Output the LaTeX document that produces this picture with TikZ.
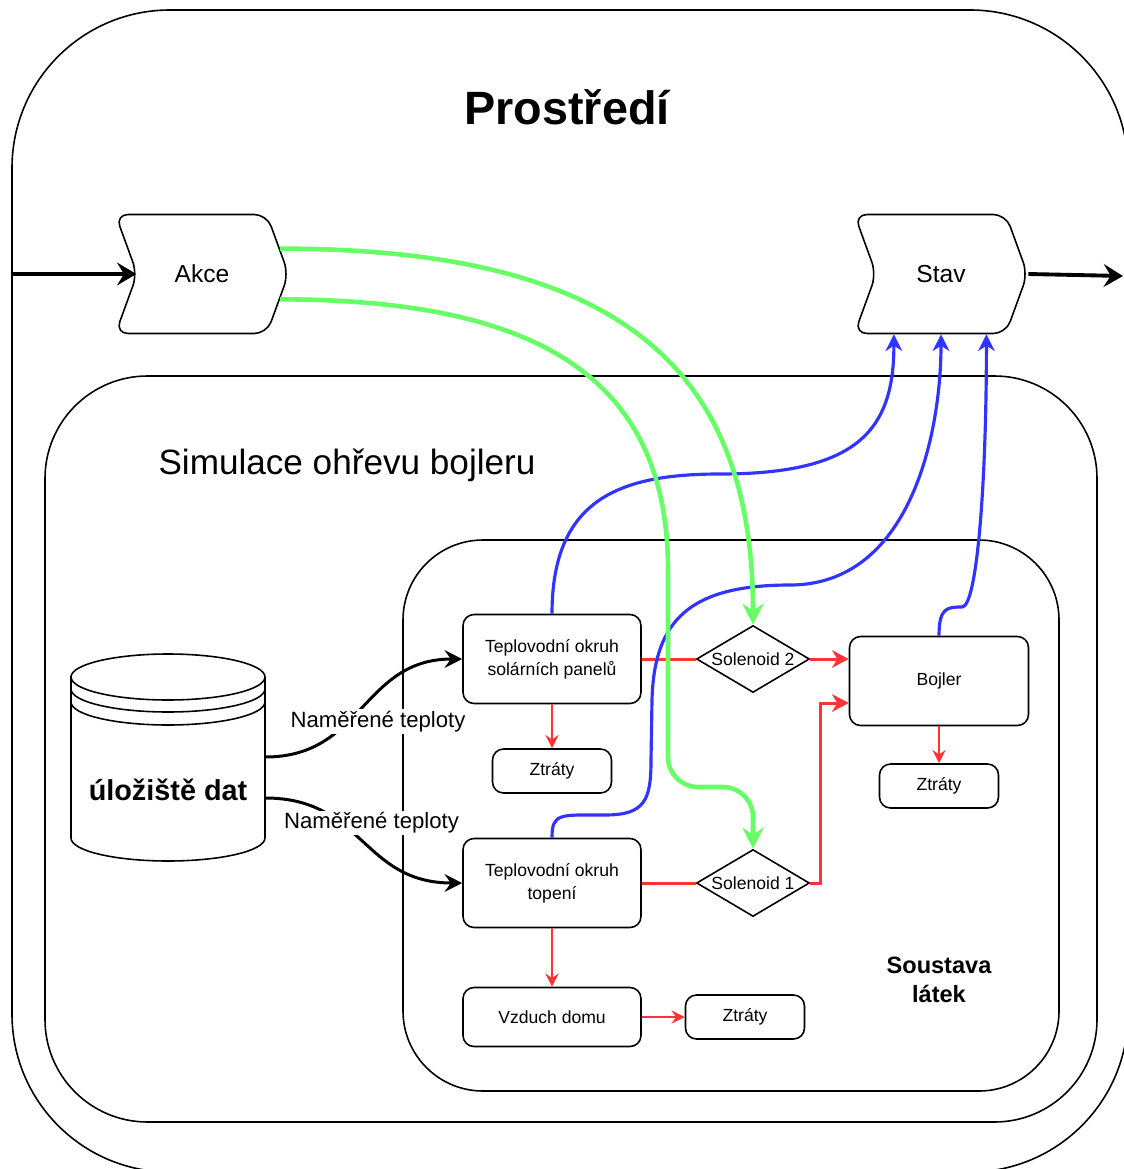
\documentclass[tikz,border=0pt]{standalone}
\usepackage{fontspec}
\setmainfont{Liberation Sans}
\usetikzlibrary{shapes.geometric, shapes.symbols, arrows.meta, calc}
\definecolor{actgreen}{HTML}{66FF66}
\definecolor{stateblue}{HTML}{3333FF}
\definecolor{heatred}{HTML}{FF3333}

\begin{document}
\begin{tikzpicture}[x=0.02cm, y=-0.02cm,
    frame/.style={draw, line width=0.9pt},
    main/.style={draw, rectangle, rounded corners=0.22cm, line width=0.9pt, fill=white, align=center, minimum width=3.56cm, minimum height=1.78cm, font=\fontsize{10}{13}\selectfont},
    loss/.style={main, minimum width=2.38cm, minimum height=0.88cm},
    valve/.style={draw, diamond, shape aspect=1.69, line width=0.9pt, fill=white, inner sep=0pt, minimum width=2.26cm, minimum height=1.34cm, font=\fontsize{10}{12}\selectfont},
    stepbox/.style={draw, signal, signal to=east, signal from=west, signal pointer angle=140, rounded corners=0.25cm, line width=0.9pt, fill=white, minimum width=3.46cm, minimum height=2.38cm, font=\fontsize{14}{16}\selectfont},
    lbl/.style={fill=white, inner sep=1pt, font=\fontsize{12.6}{15}\selectfont},
    io/.style={-{Stealth[length=11pt, width=13pt, inset=4pt]}, line width=2.2pt},
    meas/.style={-{Stealth[length=10pt, width=10pt, inset=3.5pt]}, line width=1.7pt},
    action/.style={-{Stealth[length=12pt, width=12pt, inset=4pt]}, line width=2.6pt, actgreen},
    state/.style={-{Stealth[length=9.5pt, width=9.5pt, inset=3pt]}, line width=1.8pt, stateblue},
    heat/.style={line width=1.7pt, heatred},
    heatarrow/.style={heat, -{Stealth[length=9.5pt, width=10pt, inset=3pt]}},
    lossarrow/.style={-{Stealth[length=7.5pt, width=7.5pt, inset=2.5pt]}, line width=0.8pt, heatred}]
    \useasboundingbox (0,0) rectangle (1123,1169);
    % containers
    \draw[frame, rounded corners=3.16cm] (12,10) rectangle (1128,1172);
    \draw[frame, rounded corners=2.05cm] (45,376) rectangle (1097,1122);
    \draw[frame, rounded corners=1.6cm] (403,540) rectangle (1059,1091);
    % data store
    \draw[frame, fill=white] (71,677) -- (71,838) arc[start angle=180, end angle=360, x radius=1.94cm, y radius=0.46cm] -- (265,677) arc[start angle=0, end angle=180, x radius=1.94cm, y radius=0.46cm] -- cycle;
    \draw[frame] (71,677) arc[start angle=180, end angle=360, x radius=1.94cm, y radius=0.46cm];
    \draw[frame] (71,689) arc[start angle=180, end angle=360, x radius=1.94cm, y radius=0.46cm];
    \draw[frame] (71,702) arc[start angle=180, end angle=360, x radius=1.94cm, y radius=0.46cm];
    % nodes
    \node[font=\bfseries\fontsize{26.6}{30}\selectfont] (env) at (567,107) {Prostředí};
    \node[font=\fontsize{20}{24}\selectfont] (sim) at (347,465) {Simulace ohřevu bojleru};
    \node[font=\bfseries\fontsize{13.4}{16.4}\selectfont, align=center] (sys) at (939,980) {Soustava\\látek};
    \node[minimum width=3.88cm, minimum height=4.14cm] (db) at (168,757) {};
    \node[font=\bfseries\fontsize{16.4}{19}\selectfont] (dbtext) at (168,790) {úložiště dat};
    \node[stepbox] (akce) at (202,274) {Akce};
    \node[stepbox] (stav) at (941,274) {Stav};
    \node[main] (solar) at (552,659) {Teplovodní okruh\\solárních panelů};
    \node[loss] (loss1) at (552,771) {Ztráty};
    \node[main] (topeni) at (552,883) {Teplovodní okruh\\topení};
    \node[main, minimum height=1.18cm] (house) at (552,1017) {Vzduch domu};
    \node[loss] (loss3) at (745,1017) {Ztráty};
    \node[valve] (sol2) at (753,659) {Solenoid 2};
    \node[valve] (sol1) at (753,883) {Solenoid 1};
    \node[main, minimum width=3.58cm] (bojler) at (939,681) {Bojler};
    \node[loss] (loss2) at (939,786) {Ztráty};
    \coordinate (envin) at (12,274);
    \coordinate (envout) at (1123,276);
    % edges
    \draw[io] (envin) -- (akce.west);
    \draw[io] (stav.east) -- (envout);
    \draw[meas] (db.east) .. controls +(98,0) and +(-100,0) .. (solar.west) node[lbl, pos=0.5, xshift=0.3cm, yshift=-0.27cm] {Naměřené teploty};
    \draw[meas] ($(db.east)+(0,41)$) .. controls +(98,0) and +(-100,0) .. (topeni.west) node[lbl, pos=0.5, xshift=0.17cm, yshift=0.35cm] {Naměřené teploty};
    \draw[heat] (solar.east) -- (sol2.west);
    \draw[heatarrow] (sol2.east) -- (sol2.east -| bojler.west);
    \draw[heat] (topeni.east) -- (sol1.west);
    \draw[heatarrow] (sol1.east) -- ++(10,0) |- ($(bojler.west)+(0,22)$);
    \draw[lossarrow] (solar) -- (loss1);
    \draw[lossarrow] (bojler) -- (loss2);
    \draw[lossarrow] (topeni) -- (house);
    \draw[lossarrow] (house) -- (loss3);
    \draw[state] (solar.north) .. controls +(0,-115) and +(-100,0) .. (720,474) .. controls +(140,0) and +(0,94) .. (stav.232);
    \draw[state] (topeni.north) .. controls +(0,-25) and +(-45,0) .. (605,815) .. controls +(40,0) and +(0,40) .. (651,760) -- (652,700) .. controls +(2,-80) and +(-100,0) .. (790,585) .. controls +(120,0) and +(0,100) .. (stav.south);
    \draw[state] (bojler.north) .. controls +(0,-28) and +(-15,0) .. (962,607) .. controls +(15,0) and +(0,150) .. (stav.307);
    \draw[action] (akce.18) .. controls +(341,0) and +(0,-256) .. (sol2.north);
    \draw[action, rounded corners=0.6cm] (akce.-18) .. controls +(261,0) and +(0,-220) .. (668,600) -- (668,787) -- (753,787) -- (sol1.north);
\end{tikzpicture}
\end{document}
